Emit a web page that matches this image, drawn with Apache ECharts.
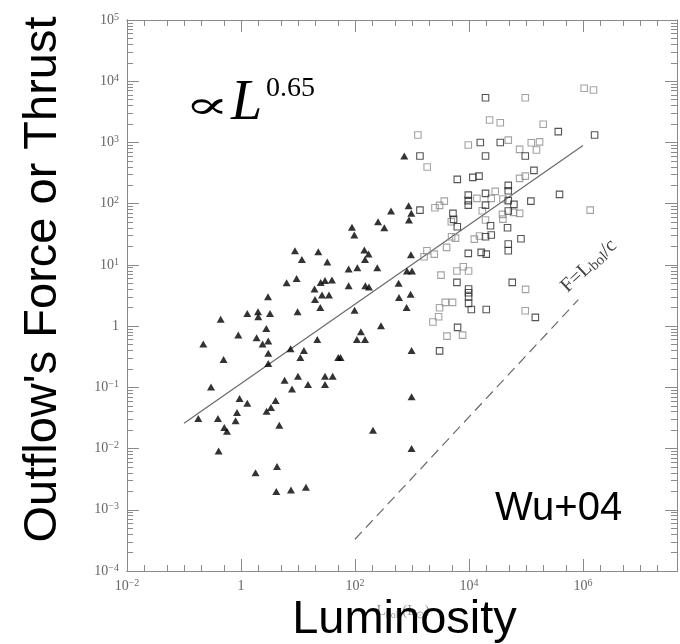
<!DOCTYPE html>
<html><head><meta charset="utf-8">
<script src="https://cdn.jsdelivr.net/npm/echarts@6/dist/echarts.min.js"></script>
<style>html,body{margin:0;padding:0;background:#fff}#c{width:680px;height:644px}</style>
</head><body><div id="c"></div>
<script>
// ---- data ----
// Filled triangles: luminosity (L_sun) and outflow force
const triL = [733,429,873,973,885,254,327,88.5,97.3,8.85,11.7,22.7,32.7,146,173,150,959,77.4,110,246,
  9.46,6.32,25,29.8,39.4,19.5,26.4,35,19.9,24.6,77.4,152,176,583,817,1000,592,946,805,98.4,
  2.98,1.29,1.99,2.01,3.23,9.84,0.44,0.897,1.88,2.78,2.39,3.01,3.01,3.01,0.218,0.495,7.41,12.7,11,21.8,
  50.9,55.8,127,108,150,286,984,5.82,10,7.85,15,29.8,40.6,29.8,0.298,0.944,1.29,4.05,3.36,2.81,
  0.851,0.804,0.178,0.394,0.509,0.568,4.7,207,984,984,0.405,4.29,1.8,4.16,7.53,13.8];
const triF = [600,75.7,92.5,69.5,54,50.6,40.4,41,30.7,17,12.3,16.4,11.2,17.5,15,12.3,14.6,8.53,8.97,8.97,
  6.01,5.11,5.18,5.58,5.65,4.03,3.21,3.21,2.73,2.02,4.56,4.56,4.34,4.99,7.93,7.93,2.94,3.33,2.02,1.82,
  3.01,1.61,1.71,1.42,1.61,1.71,1.3,0.713,0.644,0.916,0.508,0.569,0.362,0.245,0.508,0.286,0.426,0.401,0.308,0.605,
  0.308,0.308,0.807,0.605,0.605,1.01,0.401,0.13,0.152,0.0935,0.111,0.152,0.152,0.111,0.101,0.0659,0.0552,0.0611,0.0469,0.0408,
  0.0389,0.0284,0.031,0.031,0.0221,0.0192,0.0241,0.02,0.07,0.01,0.00908,0.00509,0.00401,0.00199,0.00211,0.00234];
// Open squares, darker outline
const sqDarkL = [19500,369000,1.6e6,15800,35400,97200,19500,1380,6240,11700,15000,138000,388000,122000,48900,48900,19500,9730,9730,9730,
  19500,48900,61500,48900,23900,47500,24600,19500,81700,48900,48900,16400,20100,9730,5240,5370,6240,1380,6150,9840,
  9840,9840,9840,11000,20100,6310,3050,57500,146000];
const sqDarkF = [5370,1500,1320,1000,1000,600,600,600,249,269,282,350,142,110,199,163,147,138,112,94.8,
  94.8,112,97.5,75.7,43.6,40.4,30.7,28.8,26.7,21.9,17,16,15,15.4,69.5,55.3,42,78.5,5.18,4.03,
  3.5,3.01,2.35,1.87,1.87,0.953,0.394,5.18,1.39];
// Open squares, lighter outline
const sqLightL = [97200,1.05e6,1.53e6,23000,35400,201000,1270,9730,48900,124000,173000,77300,153000,1850,77300,97200,1.34e6,28900,13800,24600,
  39400,60700,77300,38800,39400,17100,19500,15300,12400,7940,4900,4950,5820,4050,1830,2460,1630,2530,3050,3690,
  6150,9840,3840,5150,3050,2930,2330,4110,7730,98400,97200,3230];
const sqLightF = [5370,7660,7180,2320,2100,1980,1320,908,1090,989,1020,771,752,396,259,282,78.5,159,122,122,
  119,72.1,69.5,66.8,56,76.6,54,29.6,26.4,9.33,50.6,28.8,27.4,19.3,17,15,13.6,85.7,93.8,110,
  7.93,7.93,2.44,2.44,1.99,1.42,1.17,0.687,0.713,3.98,1.78,6.81];
// Fit line (F ∝ L^0.65) end points and F = L_bol/c line end points
const fitL = [0.1, 1e6];
const fitF = [0.026, 890];
const limitL = [100, 8.3e5];
const limitF = [3.3e-4, 2.7];
// Tick labels (powers of ten)
const xLabelExps = [-2, 0, 2, 4, 6];
const yLabelExps = [-4, -3, -2, -1, 0, 1, 2, 3, 4, 5];
const xRange = [-2, 7.65];
const yRange = [-4, 5];

// ---- build ----
const toLog = (xs, ys) => xs.map((x, i) => [Math.log10(x), Math.log10(ys[i])]);
const xMinor = [];
for (let d = xRange[0]; d < 8; d++) {
  [2, 5].forEach(m => { const v = d + Math.log10(m); if (v < xRange[1]) xMinor.push(v); });
  if (d % 2 !== 0 && d < xRange[1]) xMinor.push(d);
}
const yMinor = [];
for (let d = yRange[0]; d < yRange[1]; d++) for (let m = 2; m <= 9; m++) yMinor.push(d + Math.log10(m));

const AX = '#8a8a8a', LBL = '#666';
const fmt = v => v === 0 ? '{b|1}' : '{b|10}{s|' + (v < 0 ? '\u2212' : '') + Math.abs(v) + '}';
const rich = {
  b: {fontFamily: 'Liberation Serif', fontSize: 14, color: LBL, lineHeight: 16},
  s: {fontFamily: 'Liberation Serif', fontSize: 10, color: LBL, lineHeight: 10, verticalAlign: 'top'}
};
function xAx(pos, ticks, len, labels) {
  return {type: 'value', min: xRange[0], max: xRange[1], position: pos,
    axisLine: {show: true, onZero: false, lineStyle: {color: AX, width: 1}},
    axisTick: {show: true, inside: true, length: len, customValues: ticks, lineStyle: {color: AX, width: 1}},
    axisLabel: labels ? {show: true, customValues: labels, formatter: fmt, rich: rich, margin: 7} : {show: false},
    splitLine: {show: false}, minorTick: {show: false}};
}
function yAx(pos, ticks, len, labels) {
  return {type: 'value', min: yRange[0], max: yRange[1], position: pos,
    axisLine: {show: true, onZero: false, lineStyle: {color: AX, width: 1}},
    axisTick: {show: true, inside: true, length: len, customValues: ticks, lineStyle: {color: AX, width: 1}},
    axisLabel: labels ? {show: true, customValues: labels, formatter: fmt, rich: rich, margin: 8, align: 'right'} : {show: false},
    splitLine: {show: false}, minorTick: {show: false}};
}
const majorX = xLabelExps, majorY = yLabelExps;

const chart = echarts.init(document.getElementById('c'), null, {renderer: 'canvas'});
chart.setOption({
  animation: false,
  backgroundColor: '#fff',
  grid: {left: 127, top: 20, right: 3, bottom: 73, containLabel: false, outerBoundsMode: 'none'},
  xAxis: [xAx('bottom', majorX, 12, xLabelExps), xAx('bottom', xMinor, 6, null),
          xAx('top', majorX, 12, null), xAx('top', xMinor, 6, null)],
  yAxis: [yAx('left', majorY, 12, yLabelExps), yAx('left', yMinor, 6, null),
          yAx('right', majorY, 12, null), yAx('right', yMinor, 6, null)],
  series: [
    {type: 'line', data: toLog(fitL, fitF), showSymbol: false, symbol: 'none',
     lineStyle: {color: '#6a6a6a', width: 1.2}, z: 1},
    {type: 'line', data: toLog(limitL, limitF), showSymbol: false, symbol: 'none',
     lineStyle: {color: '#6a6a6a', width: 1.2, type: [10, 6]}, z: 1},
    {type: 'scatter', data: toLog(sqLightL, sqLightF), symbol: 'rect', symbolSize: 6.5,
     itemStyle: {color: 'rgba(0,0,0,0)', borderColor: '#8c8c8c', borderWidth: 1.1}, z: 2},
    {type: 'scatter', data: toLog(sqDarkL, sqDarkF), symbol: 'rect', symbolSize: 6.5,
     itemStyle: {color: 'rgba(0,0,0,0)', borderColor: '#2a2a2a', borderWidth: 1.1}, z: 2},
    {type: 'scatter', data: toLog(triL, triF), symbol: 'triangle', symbolSize: [8, 7],
     itemStyle: {color: '#000'}, z: 3}
  ],
  graphic: [
    {type: 'text', x: 207, y: 108, scaleX: 1.75, scaleY: 1, style: {text: '\u221D', font: '38px "DejaVu Serif"', fill: '#000', align: 'center', verticalAlign: 'middle'}},
    {type: 'text', x: 231, y: 104, style: {text: 'L', font: 'italic 56px "Liberation Serif"', fill: '#000', align: 'left', verticalAlign: 'middle'}},
    {type: 'text', x: 266, y: 88.5, style: {text: '0.65', font: '28px "Liberation Serif"', fill: '#000', align: 'left', verticalAlign: 'middle'}},
    {type: 'text', x: 495, y: 509, style: {text: 'Wu+04', font: '40px "Liberation Sans"', fill: '#000', align: 'left', verticalAlign: 'middle'}},
    {type: 'text', x: 403, y: 611, style: {text: '{n|L}{s|bol}{n| (L}{s|\u2299}{n|)}', align: 'center', verticalAlign: 'middle',
      rich: {n: {fontFamily: 'Liberation Serif', fontSize: 15, fill: '#999', lineHeight: 18},
             s: {fontFamily: 'Liberation Serif', fontSize: 10, fill: '#999', lineHeight: 10, verticalAlign: 'bottom'}}}},
    {type: 'text', x: 404.5, y: 620, style: {text: 'Luminosity', font: '47px "Liberation Sans"', fill: '#000', align: 'center', verticalAlign: 'middle'}},
    {type: 'text', x: 43, y: 279.5, rotation: Math.PI / 2, style: {text: "Outflow's Force or Thrust", font: '47px "Liberation Sans"', fill: '#000', align: 'center', verticalAlign: 'middle'}},
    {type: 'text', x: 589, y: 266, rotation: 0.75, style: {text: '{n|F=L}{s|bol}{n|/c}', align: 'center', verticalAlign: 'middle',
      rich: {n: {fontFamily: 'Liberation Serif', fontSize: 20, fill: '#444', lineHeight: 22},
             s: {fontFamily: 'Liberation Serif', fontSize: 15, fill: '#444', lineHeight: 15, verticalAlign: 'bottom'}}}}
  ]
});
</script></body></html>
